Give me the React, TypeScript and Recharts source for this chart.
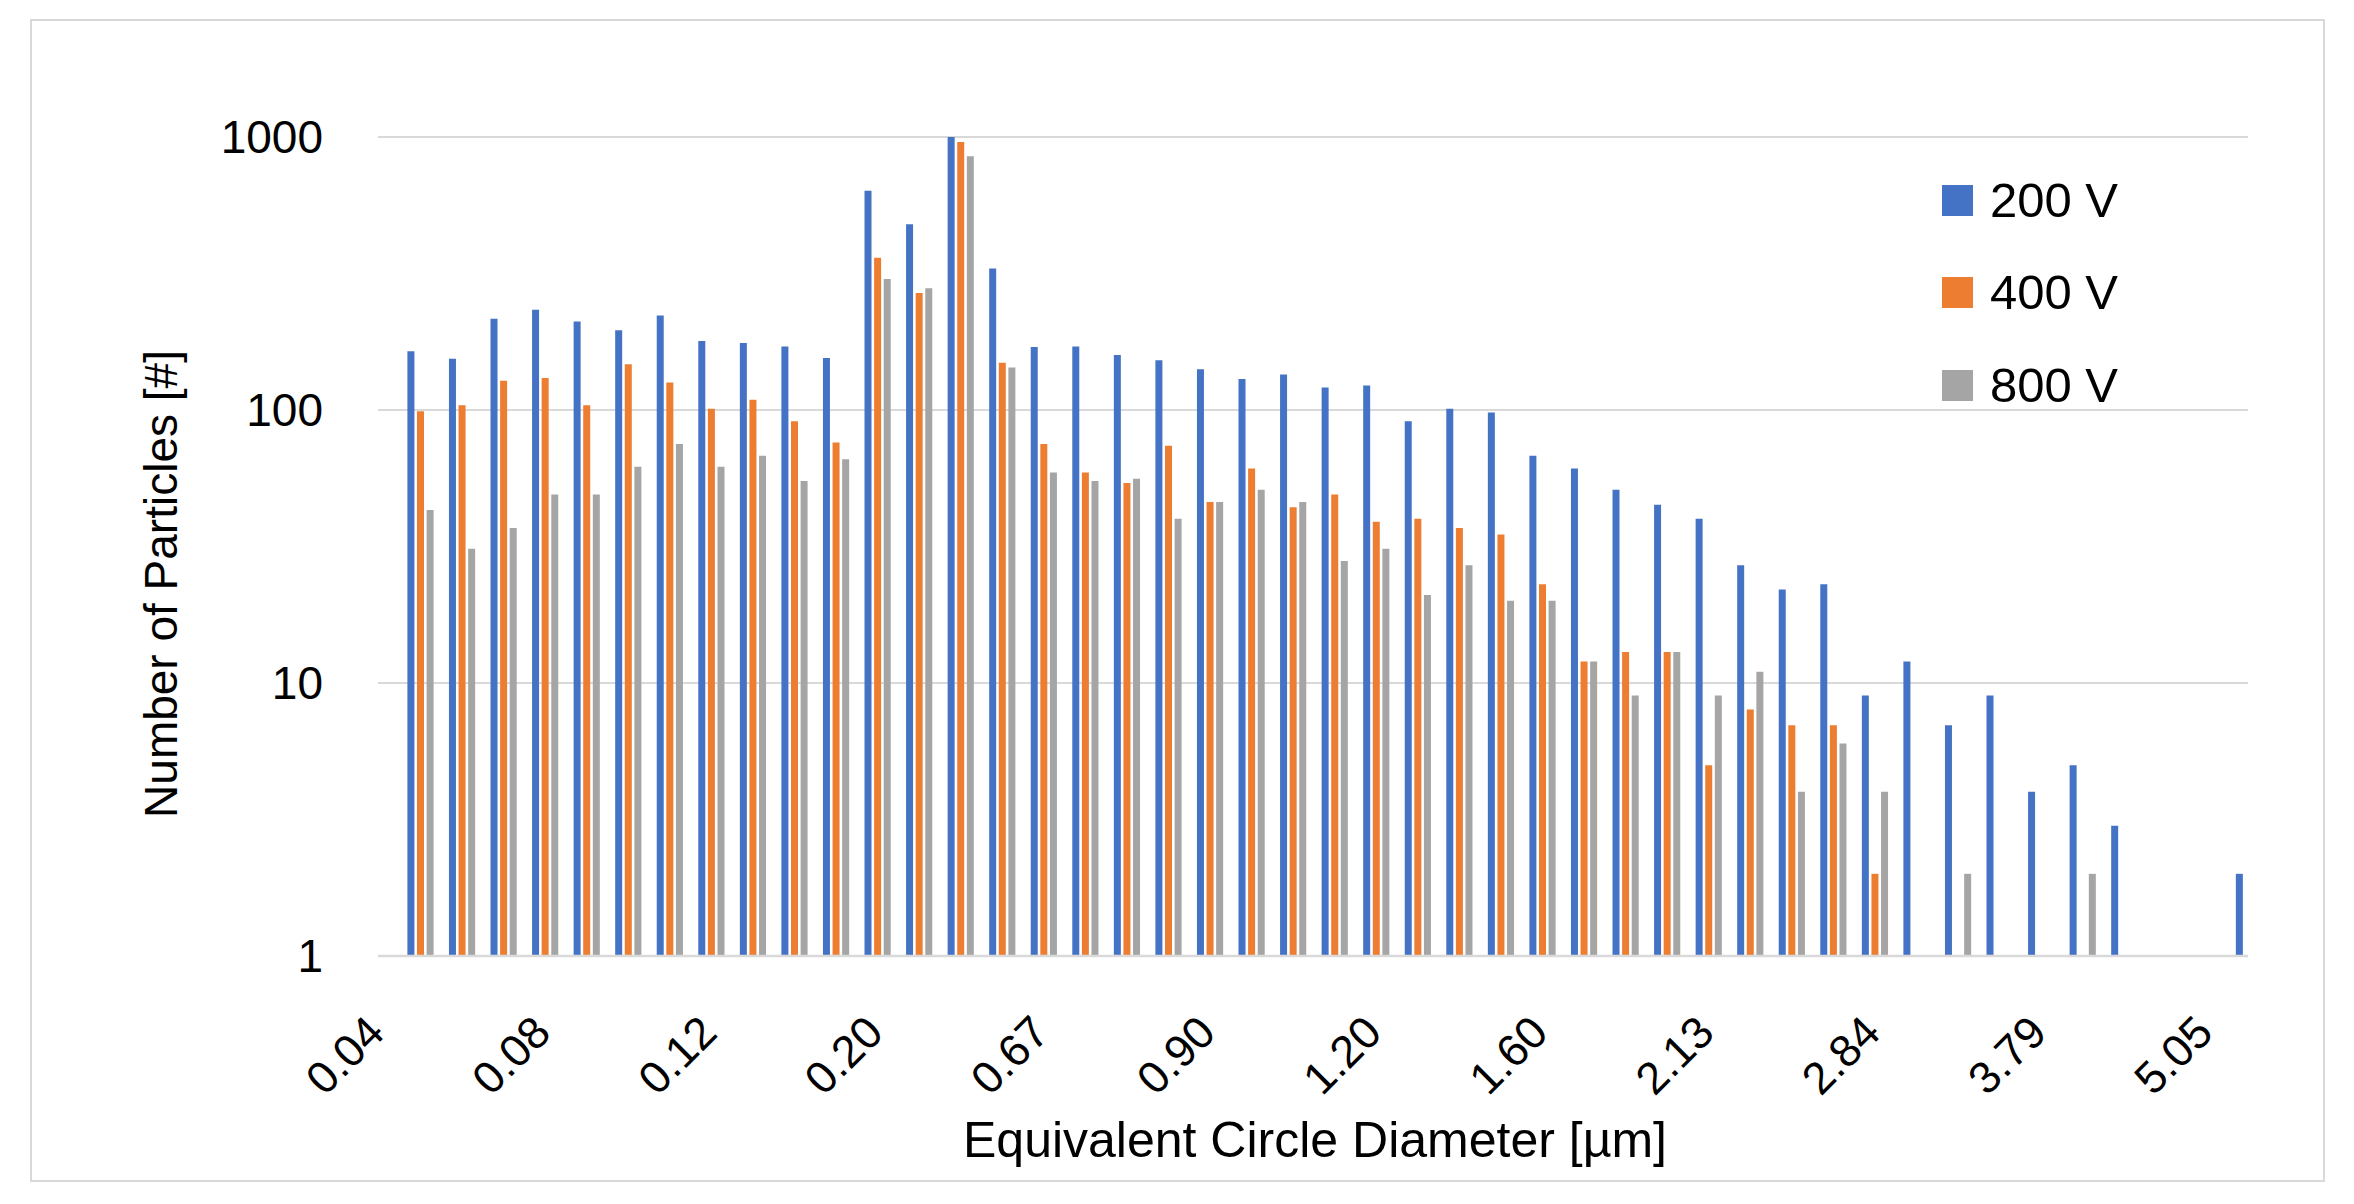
import React from "react";
import { Bar, BarChart, CartesianGrid, Legend, XAxis, YAxis } from "recharts";

const FONT = "'Liberation Sans', Arial, sans-serif";

// 45 size bins, only every 4th one is labelled on the axis
const binCount = 45;
const shownBinLabels = ["0.04", "0.08", "0.12", "0.20", "0.67", "0.90", "1.20", "1.60", "2.13", "2.84", "3.79", "5.05"];

const series = ["200 V", "400 V", "800 V"];
const colors = ["#4472C4", "#ED7D31", "#A5A5A5"];

const v200 = [164, 154, 216, 233, 211, 196, 222, 179, 176, 171, 155, 635, 479, 1000, 330, 170, 171, 159, 152, 141, 130, 135, 121, 123, 91, 101, 98, 68, 61, 51, 45, 40, 27, 22, 23, 9, 12, 7, 9, 4, 5, 3, null, null, 2];
const v400 = [99, 104, 128, 131, 104, 147, 126, 101, 109, 91, 76, 361, 268, 958, 149, 75, 59, 54, 74, 46, 61, 44, 49, 39, 40, 37, 35, 23, 12, 13, 13, 5, 8, 7, 7, 2, null, null, null, null, null, null, null, null, null];
const v800 = [43, 31, 37, 49, 49, 62, 75, 62, 68, 55, 66, 302, 279, 851, 143, 59, 55, 56, 40, 46, 51, 46, 28, 31, 21, 27, 20, 20, 12, 9, 13, 9, 11, 4, 6, 4, null, 2, null, null, 2, null, null, null, null];

const yTicks = [1, 10, 100, 1000];

const data = Array.from({ length: binCount }, (_, i) => ({
  bin: i,
  s200: v200[i],
  s400: v400[i],
  s800: v800[i],
}));

function XTick({ x, y, payload }: any) {
  const label = shownBinLabels[payload.value / 4] ?? "";
  const ax = x - 33.5;
  return (
    <text
      x={ax}
      y={y}
      transform={`rotate(-45 ${ax} ${y})`}
      textAnchor="end"
      fontSize={45}
      fontFamily={FONT}
      fill="#000"
    >
      {label}
    </text>
  );
}

function YTitle() {
  return (
    <text
      x={177}
      y={584}
      transform="rotate(-90 177 584)"
      textAnchor="middle"
      fontSize={46}
      fontFamily={FONT}
      fill="#000"
    >
      Number of Particles [#]
    </text>
  );
}

function XTitle() {
  return (
    <text x={1315} y={1157} textAnchor="middle" fontSize={50} fontFamily={FONT} fill="#000">
      Equivalent Circle Diameter [µm]
    </text>
  );
}

function LegendBox({ payload }: any) {
  return (
    <div style={{ fontFamily: FONT }}>
      {(payload || []).map((p: any) => (
        <div key={p.value} style={{ display: "flex", alignItems: "center", height: 92.5 }}>
          <div style={{ width: 31, height: 31, background: p.color, marginRight: 17 }} />
          <span style={{ fontSize: 49, lineHeight: 1, color: "#000" }}>{p.value}</span>
        </div>
      ))}
    </div>
  );
}

export default function App() {
  return (
    <div style={{ position: "absolute", left: 0, top: 0, width: 2354, height: 1204, background: "#fff" }}>
      <div
        style={{
          position: "absolute",
          left: 30,
          top: 19,
          width: 2295,
          height: 1163,
          border: "2px solid #d9d9d9",
          boxSizing: "border-box",
        }}
      />
      <BarChart
        width={2354}
        height={1204}
        data={data}
        margin={{ top: 137, right: 106, bottom: 98, left: 258 }}
        barSize={7}
        barGap={2.6}
        style={{ position: "absolute", left: 0, top: 0 }}
      >
        <CartesianGrid vertical={false} stroke="#d9d9d9" strokeWidth={2} />
        <XAxis
          dataKey="bin"
          type="category"
          height={150}
          interval={3}
          padding={{ left: 21.4, right: -21.4 }}
          axisLine={{ stroke: "#d9d9d9", strokeWidth: 2.5 }}
          tickLine={false}
          tickSize={0}
          tickMargin={79}
          tick={<XTick />}
          label={<XTitle />}
        />
        <YAxis
          scale="log"
          domain={[1, 1000]}
          ticks={yTicks}
          allowDataOverflow
          width={120}
          axisLine={false}
          tickLine={false}
          tickSize={0}
          tickMargin={55}
          tick={{ fill: "#000", fontSize: 46, fontFamily: FONT }}
          label={<YTitle />}
        />
        <Legend
          layout="vertical"
          align="center"
          verticalAlign="middle"
          content={<LegendBox />}
          wrapperStyle={{ left: 1942, top: 154, width: 260, height: 280 }}
        />
        <Bar dataKey="s200" name={series[0]} fill={colors[0]} isAnimationActive={false} />
        <Bar dataKey="s400" name={series[1]} fill={colors[1]} isAnimationActive={false} />
        <Bar dataKey="s800" name={series[2]} fill={colors[2]} isAnimationActive={false} />
      </BarChart>
    </div>
  );
}
